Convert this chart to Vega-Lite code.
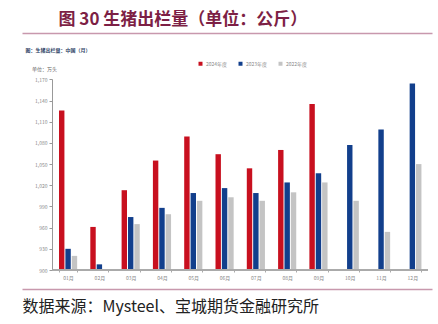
{
  "$schema": "https://vega.github.io/schema/vega-lite/v6.json",
  "width": 410,
  "height": 191,
  "autosize": {"type": "none"},
  "padding": {"left": 22, "top": 79, "right": 6, "bottom": 54},
  "background": "white",
  "config": {"view": {"stroke": null}, "font": "Noto Sans CJK SC"},
  "data": {
    "values": [
      {"month": "01月", "year": "2024年度", "value": 1126},
      {"month": "01月", "year": "2023年度", "value": 930},
      {"month": "01月", "year": "2022年度", "value": 920},
      {"month": "02月", "year": "2024年度", "value": 961},
      {"month": "02月", "year": "2023年度", "value": 908},
      {"month": "02月", "year": "2022年度", "value": 901},
      {"month": "03月", "year": "2024年度", "value": 1013},
      {"month": "03月", "year": "2023年度", "value": 975},
      {"month": "03月", "year": "2022年度", "value": 965},
      {"month": "04月", "year": "2024年度", "value": 1055},
      {"month": "04月", "year": "2023年度", "value": 988},
      {"month": "04月", "year": "2022年度", "value": 979},
      {"month": "05月", "year": "2024年度", "value": 1089},
      {"month": "05月", "year": "2023年度", "value": 1009},
      {"month": "05月", "year": "2022年度", "value": 998},
      {"month": "06月", "year": "2024年度", "value": 1064},
      {"month": "06月", "year": "2023年度", "value": 1016},
      {"month": "06月", "year": "2022年度", "value": 1003},
      {"month": "07月", "year": "2024年度", "value": 1044},
      {"month": "07月", "year": "2023年度", "value": 1009},
      {"month": "07月", "year": "2022年度", "value": 998},
      {"month": "08月", "year": "2024年度", "value": 1070},
      {"month": "08月", "year": "2023年度", "value": 1024},
      {"month": "08月", "year": "2022年度", "value": 1010},
      {"month": "09月", "year": "2024年度", "value": 1135},
      {"month": "09月", "year": "2023年度", "value": 1037},
      {"month": "09月", "year": "2022年度", "value": 1024},
      {"month": "10月", "year": "2023年度", "value": 1077},
      {"month": "10月", "year": "2022年度", "value": 998},
      {"month": "11月", "year": "2023年度", "value": 1099},
      {"month": "11月", "year": "2022年度", "value": 954},
      {"month": "12月", "year": "2023年度", "value": 1164},
      {"month": "12月", "year": "2022年度", "value": 1050}
    ]
  },
  "layer": [
    {
      "mark": {"type": "bar"},
      "encoding": {
        "x": {
          "field": "month", "type": "nominal",
          "scale": {"paddingInner": 0.42, "paddingOuter": 0.76, "align": 0.778},
          "axis": {"title": null, "domain": false, "ticks": true, "tickBand": "extent", "tickSize": 2, "tickColor": "#aaaaaa", "labelFontSize": 5, "labelColor": "#888888", "labelAngle": 0, "labelPadding": 3}
        },
        "xOffset": {"field": "year", "type": "nominal", "sort": ["2024年度", "2023年度", "2022年度"], "scale": {"paddingInner": 0.15}},
        "y": {
          "field": "value", "type": "quantitative", "stack": null,
          "scale": {"domain": [900, 1170.5], "nice": false, "zero": false, "clamp": true},
          "axis": {"offset": -30, "values": [900, 930, 960, 990, 1020, 1050, 1080, 1110, 1140, 1170], "labelExpr": "format(datum.value, ',.0f')", "labelOverlap": false, "labelFlush": false, "labelBound": false, "title": "单位：万头", "titleAngle": 0, "titleX": -8, "titleY": -8, "titleFontSize": 5, "titleColor": "#666666", "titleFontWeight": "normal", "titleAlign": "center", "labelFontSize": 5, "labelColor": "#888888", "tickSize": 3, "tickColor": "#999999", "domainColor": "#999999", "grid": false, "labelPadding": 2}
        },
        "color": {
          "field": "year", "type": "nominal",
          "scale": {"domain": ["2024年度", "2023年度", "2022年度"], "range": ["#c8101f", "#123f8c", "#c4c4c4"]},
          "legend": {"orient": "none", "legendX": 176, "legendY": -18, "direction": "horizontal", "title": null, "symbolType": "square", "symbolSize": 16, "symbolStrokeWidth": 0, "labelFontSize": 5, "labelColor": "#888888", "columnPadding": 10, "labelOffset": 3}
        }
      }
    },
    {
      "mark": {"type": "rule", "color": "#aaaaaa", "strokeWidth": 1},
      "encoding": {
        "x": {"datum": "01月", "bandPosition": -0.35, "axis": null},
        "x2": {"datum": "12月", "bandPosition": 1.35},
        "y": {"datum": 900, "axis": null}
      }
    },
    {
      "mark": {"type": "point", "opacity": 0},
      "encoding": {
        "x": {"field": "month", "type": "nominal", "axis": {"orient": "top", "offset": 46, "domainColor": "#c898ad", "domainWidth": 1.5, "labels": false, "ticks": false, "title": "图 30 生猪出栏量（单位：公斤）", "titleAnchor": "start", "titleAlign": "left", "titleX": 36, "titlePadding": 5, "titleFontSize": 17, "titleColor": "#7d1f45", "titleFontWeight": "bold"}},
        "y": {"field": "value", "type": "quantitative", "axis": null}
      }
    },
    {
      "mark": {"type": "point", "opacity": 0},
      "encoding": {
        "x": {"field": "month", "type": "nominal", "axis": {"orient": "bottom", "offset": 19, "domainColor": "#c898ad", "domainWidth": 1.5, "labels": false, "ticks": false, "title": "数据来源：Mysteel、宝城期货金融研究所", "titleAnchor": "start", "titleAlign": "left", "titleX": 0, "titlePadding": 9, "titleFontSize": 16, "titleColor": "#222222", "titleFontWeight": "normal"}},
        "y": {"field": "value", "type": "quantitative", "axis": {"orient": "right", "domain": false, "labels": false, "ticks": false, "grid": false, "title": "图：生猪出栏量：中国（月）", "titleAngle": 0, "titleAlign": "left", "titleBaseline": "middle", "titleX": -407, "titleY": -30, "titleFontSize": 5, "titleColor": "#2d3f66", "titleFontWeight": "bold"}}
      }
    }
  ],
  "resolve": {"axis": {"x": "independent", "y": "independent"}}
}
